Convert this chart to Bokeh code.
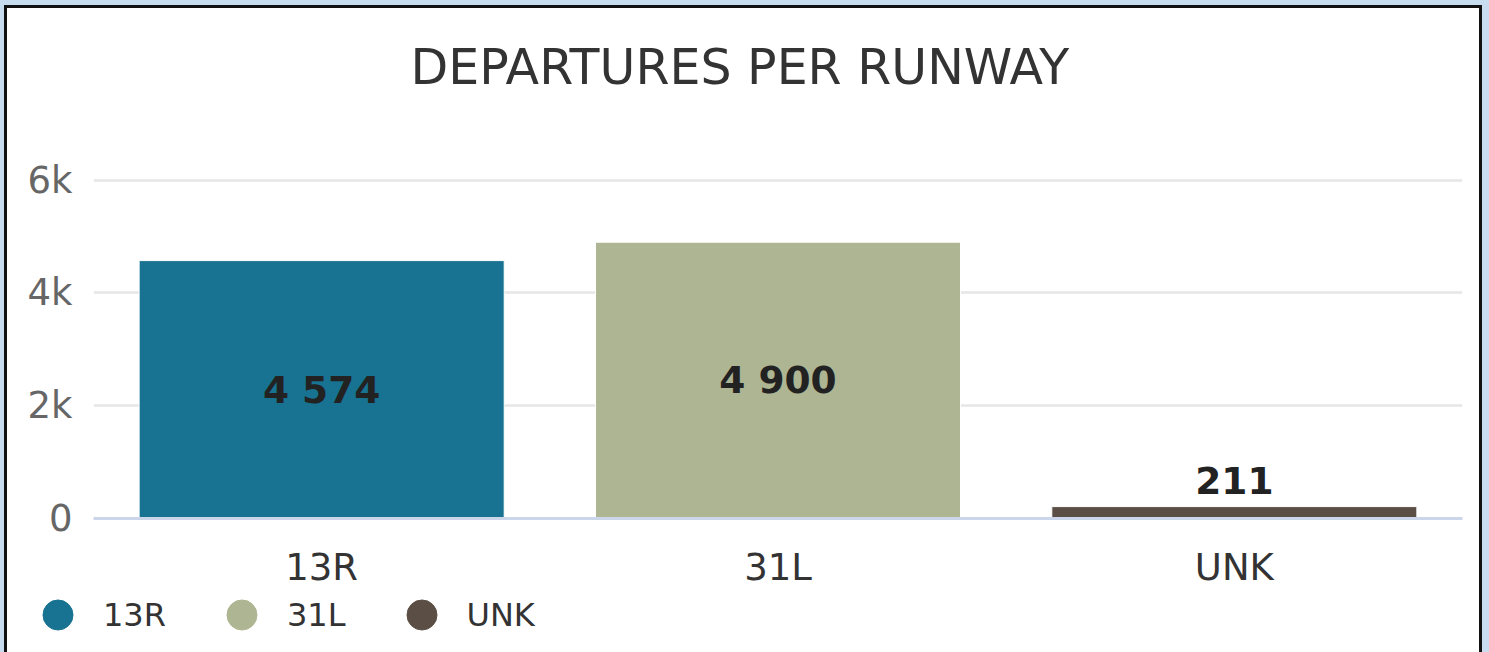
from bokeh.plotting import figure
from bokeh.layouts import column
from bokeh.models import ColumnDataSource, FactorRange, Range1d, FixedTicker, Legend, LegendItem, Title
from bokeh.core.properties import value
from bokeh.embed import file_html
from bokeh.resources import INLINE

# ---- data ----
runways = ["13R", "31L", "UNK"]
departures = [4574, 4900, 211]
bar_colors = ["#177391", "#aeb592", "#5b4f45"]
y_ticks = [0, 2000, 4000, 6000]
y_tick_labels = ["0", "2k", "4k", "6k"]
title_text = "DEPARTURES PER RUNWAY"

FONT = "DejaVu Sans"
W = 1472
H_MAIN = 583
H_LEG = 61

labels = [f"{v:,}".replace(",", " ") for v in departures]
inside = [v >= 1000 for v in departures]

in_src = ColumnDataSource(dict(
    runway=[r for r, i in zip(runways, inside) if i],
    y=[v / 2 for v, i in zip(departures, inside) if i],
    label=[l for l, i in zip(labels, inside) if i],
))
out_src = ColumnDataSource(dict(
    runway=[r for r, i in zip(runways, inside) if not i],
    y=[v for v, i in zip(departures, inside) if not i],
    label=[l for l, i in zip(labels, inside) if not i],
))

p = figure(
    width=W, height=H_MAIN,
    x_range=FactorRange(*runways, range_padding=0),
    y_range=Range1d(0, max(y_ticks) * 1.005),
    output_backend="svg", toolbar_location=None,
    min_border_left=86, min_border_right=17, min_border_top=170, min_border_bottom=73,
)
p.frame_align = False
p.background_fill_color = "white"
p.border_fill_color = "white"
p.outline_line_color = None

# real title (outer), spacer title (closest to frame)
p.title.text = title_text
p.title.text_font = FONT
p.title.text_font_size = "49px"
p.title.text_font_style = "normal"
p.title.text_color = "#333333"
p.title.align = "left"
p.title.offset = 317
p.title.standoff = 0
spacer = Title(text=" ", text_font_size="2px", standoff=79)
p.add_layout(spacer, "above")

# bars
for r, v, c in zip(runways, departures, bar_colors):
    s = ColumnDataSource(dict(runway=[r], dep=[v]))
    p.vbar(x="runway", top="dep", bottom=0, width=0.8, source=s,
           fill_color=c, line_color="white", line_width=1)

# data labels
p.text(x="runway", y="y", text="label", source=in_src,
       text_font=value(FONT), text_font_size="37.5px", text_font_style="bold",
       text_color="#222222", text_align="center", text_baseline="middle")
p.text(x="runway", y="y", text="label", source=out_src,
       text_font=value(FONT), text_font_size="37.5px", text_font_style="bold",
       text_color="#222222", text_align="center", text_baseline="bottom", y_offset=-13)

# axes
p.yaxis.ticker = FixedTicker(ticks=y_ticks)
p.yaxis.major_label_overrides = dict(zip(y_ticks, y_tick_labels))
p.yaxis.axis_line_color = None
p.yaxis.major_tick_line_color = None
p.yaxis.major_tick_out = 0
p.yaxis.major_tick_in = 0
p.yaxis.minor_tick_line_color = None
p.yaxis.major_label_standoff = 21
p.yaxis.major_label_text_font = FONT
p.yaxis.major_label_text_font_size = "37px"
p.yaxis.major_label_text_color = "#666666"

p.xaxis.axis_line_color = "#ccd6eb"
p.xaxis.axis_line_width = 3
p.xaxis.major_tick_line_color = None
p.xaxis.major_tick_out = 0
p.xaxis.major_tick_in = 0
p.xaxis.minor_tick_line_color = None
p.xaxis.major_label_standoff = 27
p.xaxis.major_label_text_font = FONT
p.xaxis.major_label_text_font_size = "37px"
p.xaxis.major_label_text_color = "#333333"

p.xgrid.grid_line_color = None
p.ygrid.grid_line_color = "#e6e6e6"
p.ygrid.grid_line_width = 2.5

# ---- legend strip ----
q = figure(width=W, height=H_LEG, x_range=Range1d(0, 1), y_range=Range1d(0, 1),
           output_backend="svg", toolbar_location=None,
           x_axis_location=None, y_axis_location=None,
           min_border=0, min_border_left=0, min_border_right=0,
           min_border_top=0, min_border_bottom=0)
q.frame_align = False
q.grid.visible = False
q.outline_line_color = None
q.background_fill_color = "white"
q.border_fill_color = "white"

leg_items = []
for r, c in zip(runways, bar_colors):
    # a non-drawn point (NaN) so the legend has a glyph to show
    s = ColumnDataSource(dict(x=[float("nan")], y=[float("nan")]))
    m = q.scatter(x="x", y="y", source=s, marker="circle", size=30,
                  fill_color=c, line_color=c)
    leg_items.append(LegendItem(label=r, renderers=[m], index=0))

legend = Legend(items=leg_items, orientation="horizontal", location=(13, 0))
legend.glyph_width = 75
legend.glyph_height = 75
legend.label_standoff = 8
legend.spacing = 38
legend.padding = 0
legend.margin = 0
legend.border_line_color = None
legend.background_fill_alpha = 0
legend.label_text_font = FONT
legend.label_text_font_size = "32px"
legend.label_text_color = "#333333"
q.add_layout(legend)

layout = column(p, q, spacing=0)
layout.styles = {"outline": "3px solid #111111", "box-shadow": "0 0 0 16px #c8dcf0",
                 "margin-left": "7px", "margin-top": "8px", "background": "white"}

open("out.html", "w").write(file_html(layout, INLINE))
